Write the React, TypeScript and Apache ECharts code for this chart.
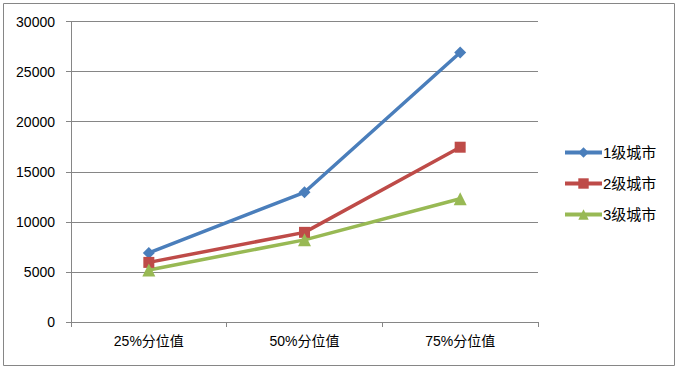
import React, { useEffect, useRef } from "react";
import * as echarts from "echarts";

const categories = ["25%分位值", "50%分位值", "75%分位值"];
const seriesNames = ["1级城市", "2级城市", "3级城市"];
const tier1 = [6900, 12950, 26900];
const tier2 = [5950, 8950, 17450];
const tier3 = [5200, 8200, 12300];
const yTicks = { min: 0, max: 30000, interval: 5000 };

const FONT = "'Liberation Sans', 'Noto Sans CJK SC', sans-serif";

export default function App() {
  const ref = useRef<HTMLDivElement>(null);
  useEffect(() => {
    document.body.style.margin = "0";
    const chart = echarts.init(ref.current!, null, { renderer: "svg" });
    const mk = (name: string, data: number[], color: string, symbol: string, size: number) => ({
      name,
      type: "line",
      data,
      symbol,
      symbolSize: size,
      showSymbol: true,
      lineStyle: { color, width: 3.5 },
      itemStyle: { color },
      emphasis: { disabled: true },
    });
    chart.setOption({
      animation: false,
      backgroundColor: "#ffffff",
      textStyle: { fontFamily: FONT },
      graphic: [
        {
          type: "rect",
          shape: { x: 3.5, y: 3.5, width: 671, height: 362 },
          style: { fill: "none", stroke: "#868686", lineWidth: 1 },
          silent: true,
        },
      ],
      grid: { left: 71, right: 140, top: 21.5, bottom: 47, containLabel: false },
      legend: {
        orient: "vertical",
        left: 563,
        top: 145,
        padding: 0,
        itemWidth: 37,
        itemHeight: 13,
        itemGap: 16,
        lineStyle: { width: 4 },
        textStyle: { fontFamily: FONT, fontSize: 15, color: "#000", padding: [0, 0, 0, -4] },
        data: seriesNames,
      },
      xAxis: {
        type: "category",
        data: categories,
        boundaryGap: true,
        axisLine: { lineStyle: { color: "#868686", width: 1 } },
        axisTick: { show: true, length: 5, lineStyle: { color: "#868686" } },
        axisLabel: { color: "#000", fontSize: 14, margin: 12, fontFamily: FONT },
      },
      yAxis: {
        type: "value",
        min: yTicks.min,
        max: yTicks.max,
        interval: yTicks.interval,
        axisLine: { show: true, lineStyle: { color: "#868686", width: 1 } },
        axisTick: { show: true, length: 5, lineStyle: { color: "#868686" } },
        splitLine: { show: true, lineStyle: { color: "#868686", width: 1 } },
        axisLabel: {
          color: "#000",
          fontSize: 14,
          margin: 16,
          fontFamily: FONT,
          formatter: (v: number) => String(v),
        },
      },
      series: [
        mk(seriesNames[0], tier1, "#4a7ebb", "diamond", 12),
        mk(seriesNames[1], tier2, "#be4b48", "rect", 11),
        mk(seriesNames[2], tier3, "#98b954", "triangle", 13),
      ],
    });
    return () => chart.dispose();
  }, []);
  return <div ref={ref} style={{ width: 678, height: 369 }} />;
}
